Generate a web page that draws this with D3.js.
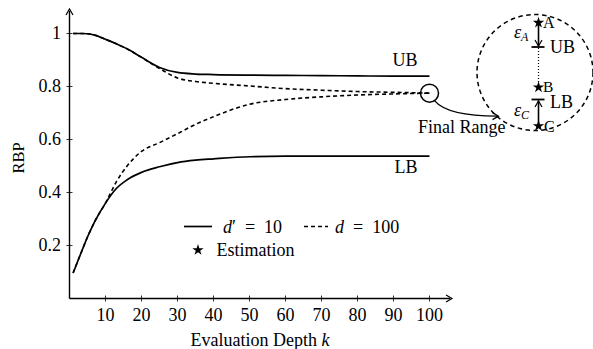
<!DOCTYPE html>
<html><head><meta charset="utf-8">
<script src="https://cdn.jsdelivr.net/npm/d3@7"></script>
<style>body{margin:0;background:#fff}svg{display:block}text{font-family:"Liberation Serif","Times New Roman",serif;fill:#000}</style>
</head><body><svg id="c" width="593" height="349"></svg>
<script>
const kValues   = [1,3,5,7,10,13,16,20,25,30,35,40,50,60,70,80,90,100];
const ubSolid   = [1.0,1.0,0.999,0.994,0.978,0.961,0.942,0.91,0.872,0.853,0.847,0.845,0.843,0.842,0.841,0.840,0.839,0.839];
const lbSolid   = [0.096,0.165,0.232,0.29,0.36,0.415,0.448,0.476,0.497,0.513,0.522,0.527,0.535,0.537,0.537,0.537,0.537,0.537];
const ubDashed  = [1.0,1.0,0.999,0.994,0.978,0.961,0.942,0.91,0.868,0.832,0.819,0.812,0.802,0.792,0.786,0.781,0.778,0.775];
const lbDashed  = [0.096,0.165,0.232,0.29,0.36,0.44,0.50,0.555,0.588,0.622,0.657,0.686,0.733,0.751,0.761,0.768,0.772,0.775];
const xTicks = [10,20,30,40,50,60,70,80,90,100];
const yTicks = [0.2,0.4,0.6,0.8,1];
const yTickLabels = ["0.2","0.4","0.6","0.8","1"];

const svg = d3.select("#c");
const FS = 18;
const x = d3.scaleLinear().domain([0,100]).range([69.5,429.5]);
const y = d3.scaleLinear().domain([0,1]).range([298.5,33.5]);

// axes
const ax = svg.append("g").attr("stroke","#000").attr("stroke-width",1.4).attr("fill","none");
ax.append("line").attr("x1",x(0)).attr("x2",450).attr("y1",y(0)).attr("y2",y(0));
ax.append("line").attr("x1",x(0)).attr("x2",x(0)).attr("y1",y(0)).attr("y2",11);
ax.append("path").attr("d",`M${446},${y(0)-3.5} L${452},${y(0)} L${446},${y(0)+3.5}`).attr("stroke-width",1.2);
ax.append("path").attr("d",`M${x(0)-3.5},${15} L${x(0)},${9} L${x(0)+3.5},${15}`).attr("stroke-width",1.2);

const xg = svg.append("g");
xTicks.forEach(t=>{
  xg.append("line").attr("x1",x(t)).attr("x2",x(t)).attr("y1",y(0)-3).attr("y2",y(0)+3).attr("stroke","#000").attr("stroke-width",0.8);
  xg.append("text").attr("x",x(t)).attr("y",321).attr("text-anchor","middle").attr("font-size",FS).text(t);
});
yTicks.forEach((t,i)=>{
  xg.append("line").attr("x1",x(0)-3).attr("x2",x(0)+3).attr("y1",y(t)).attr("y2",y(t)).attr("stroke","#000").attr("stroke-width",0.8);
  xg.append("text").attr("x",61).attr("y",y(t)).attr("dy","0.33em").attr("text-anchor","end").attr("font-size",FS).text(yTickLabels[i]);
});
svg.append("text").attr("transform","translate(24,158) rotate(-90)").attr("text-anchor","middle").attr("font-size",16.5).text("RBP");
const xl = svg.append("text").attr("x",260).attr("y",345.5).attr("text-anchor","middle").attr("font-size",FS);
xl.append("tspan").text("Evaluation Depth ");
xl.append("tspan").attr("font-style","italic").text("k");

// lines
const line = d3.line().x(d=>x(d[0])).y(d=>y(d[1])).curve(d3.curveMonotoneX);
const mk = arr => kValues.map((k,i)=>[k,arr[i]]);
const lg = svg.append("g").attr("fill","none").attr("stroke","#000");
lg.append("path").attr("d",line(mk(ubDashed))).attr("stroke-width",1.6).attr("stroke-dasharray","4,3");
lg.append("path").attr("d",line(mk(lbDashed))).attr("stroke-width",1.6).attr("stroke-dasharray","4,3");
lg.append("path").attr("d",line(mk(ubSolid))).attr("stroke-width",1.7);
lg.append("path").attr("d",line(mk(lbSolid))).attr("stroke-width",1.7);

svg.append("text").attr("x",x(100)-12).attr("y",66).attr("text-anchor","end").attr("font-size",FS).text("UB");
svg.append("text").attr("x",x(100)-12).attr("y",173).attr("text-anchor","end").attr("font-size",FS).text("LB");

// legend
svg.append("line").attr("x1",184).attr("x2",212).attr("y1",226.5).attr("y2",226.5).attr("stroke","#000").attr("stroke-width",1.7);
const t1 = svg.append("text").attr("x",223).attr("y",233).attr("font-size",FS);
t1.append("tspan").attr("font-style","italic").text("d");
t1.append("tspan").text("′\u2002=\u200210");
svg.append("line").attr("x1",304).attr("x2",328).attr("y1",226.5).attr("y2",226.5).attr("stroke","#000").attr("stroke-width",1.6).attr("stroke-dasharray","4,3");
const t2 = svg.append("text").attr("x",335).attr("y",233).attr("font-size",FS);
t2.append("tspan").attr("font-style","italic").text("d");
t2.append("tspan").text("\u2002=\u2002100");
const star = d3.symbol().type(d3.symbolStar).size(40);
svg.append("path").attr("d",star()).attr("transform","translate(198,250)").attr("fill","#000");
svg.append("text").attr("x",216.5).attr("y",255.5).attr("font-size",FS).text("Estimation");

// final range annotation
const cx = x(100), cy = y(0.775);
svg.append("circle").attr("cx",cx).attr("cy",cy).attr("r",9).attr("fill","none").attr("stroke","#000").attr("stroke-width",1.5);
svg.append("path").attr("d",`M${cx+5},${cy+7.5} Q${cx+18},${cy+23} ${cx+68},${cy+23}`).attr("fill","none").attr("stroke","#000").attr("stroke-width",1.4);
svg.append("path").attr("d",`M${cx+63},${cy+19.5} L${cx+69},${cy+23} L${cx+63},${cy+26.5}`).attr("fill","none").attr("stroke","#000").attr("stroke-width",1.2);
svg.append("text").attr("x",418).attr("y",133).attr("font-size",FS).text("Final Range");

svg.append("circle").attr("cx",535).attr("cy",72.5).attr("r",58).attr("fill","none").attr("stroke","#000").attr("stroke-width",1.5).attr("stroke-dasharray","4.5,3.5");
const vx = 538.5;
const g = svg.append("g").attr("stroke","#000").attr("fill","none");
g.append("line").attr("x1",vx).attr("x2",vx).attr("y1",23).attr("y2",46).attr("stroke-width",1.6);
g.append("path").attr("d",`M${vx-3.5},${40} L${vx},${46} L${vx+3.5},${40}`).attr("stroke-width",1.2);
g.append("line").attr("x1",vx-7).attr("x2",vx+6).attr("y1",47).attr("y2",47).attr("stroke-width",1.8);
g.append("line").attr("x1",vx).attr("x2",vx).attr("y1",48).attr("y2",86).attr("stroke-width",1.2).attr("stroke-dasharray","1,2");
g.append("line").attr("x1",vx-7).attr("x2",vx+6).attr("y1",99.5).attr("y2",99.5).attr("stroke-width",1.8);
g.append("line").attr("x1",vx).attr("x2",vx).attr("y1",100.5).attr("y2",126).attr("stroke-width",1.6);
g.append("path").attr("d",`M${vx-3.5},${107} L${vx},${101} L${vx+3.5},${107}`).attr("stroke-width",1.2);
[[22.7],[87.3],[126]].forEach(d=>svg.append("path").attr("d",star()).attr("transform",`translate(${vx},${d[0]})`).attr("fill","#000"));
svg.append("text").attr("x",543).attr("y",28).attr("font-size",16).text("A");
svg.append("text").attr("x",550).attr("y",53).attr("font-size",FS).text("UB");
svg.append("text").attr("x",543).attr("y",92).attr("font-size",15.5).text("B");
svg.append("text").attr("x",550).attr("y",108).attr("font-size",FS).text("LB");
svg.append("text").attr("x",544).attr("y",131.5).attr("font-size",16).text("C");
const ea = svg.append("text").attr("x",514).attr("y",38).attr("font-size",18);
ea.append("tspan").attr("font-style","italic").text("ε");
ea.append("tspan").attr("font-style","italic").attr("font-size",12).attr("dy",3).text("A");
const ec = svg.append("text").attr("x",514).attr("y",116).attr("font-size",18);
ec.append("tspan").attr("font-style","italic").text("ε");
ec.append("tspan").attr("font-style","italic").attr("font-size",12).attr("dy",3).text("C");
</script></body></html>
